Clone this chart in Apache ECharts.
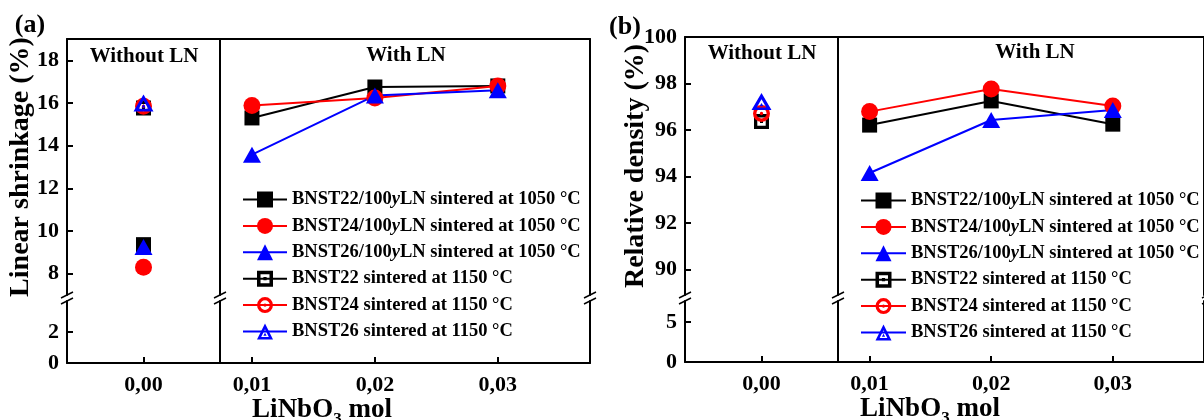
<!DOCTYPE html>
<html><head><meta charset="utf-8">
<script src="https://cdn.jsdelivr.net/npm/echarts@6.0.0/dist/echarts.min.js"></script>
<style>html,body{margin:0;padding:0;background:#fff}#c{width:1204px;height:420px}</style>
</head><body><div id="c"></div>
<script>
// ---------------- DATA ----------------
const xLeftCats = ['0,00'];
const xRightVals = [0.01, 0.02, 0.03];
const seriesNames = [
  'BNST22/100yLN sintered at 1050 °C',
  'BNST24/100yLN sintered at 1050 °C',
  'BNST26/100yLN sintered at 1050 °C',
  'BNST22 sintered at 1150 °C',
  'BNST24 sintered at 1150 °C',
  'BNST26 sintered at 1150 °C'
];
// (a) Linear shrinkage (%)
const shrinkLN22 = [15.3, 16.75, 16.8];
const shrinkLN24 = [15.88, 16.23, 16.8];
const shrinkLN26 = [13.58, 16.35, 16.6];
const shrinkNoLN1050 = [9.36, 8.3, 9.25];   // BNST22, BNST24, BNST26 at 0,00
const shrinkNoLN1150 = [15.76, 15.85, 16.0];
const shrinkTicksUpper = [8, 10, 12, 14, 16, 18];
const shrinkTicksLower = [0, 2];
// (b) Relative density (%)
const densLN22 = [96.21, 97.25, 96.25];
const densLN24 = [96.79, 97.76, 97.03];
const densLN26 = [94.15, 96.43, 96.86];
const densNoLN1150 = [96.36, 96.71, 97.22];
const densTicksUpper = [90, 92, 94, 96, 98, 100];
const densTicksLower = [0, 5];

// ---------------- STYLE / LAYOUT ----------------
const FONT = "'Liberation Serif','Times New Roman',serif";
function T(size, extra) { return Object.assign({fontFamily: FONT, fontWeight: 'bold', fontSize: size, color: '#000'}, extra || {}); }
const LINE = {show: true, onZero: false, lineStyle: {color: '#000', width: 2}};
const COLORS = ['#000000', '#ff0000', '#0000ff'];
const FILLED = ['rect', 'circle', 'triangle'];
const FILLED_SIZE = [15, 17, [18, 16]];
const HOLLOW = [
  'path://M0,0H10V10H0Z M2.2,2.2V7.8H7.8V2.2Z M4,4H6V6H4Z',
  'path://M5,0A5,5,0,1,1,5,10A5,5,0,1,1,5,0Z M5,2A3,3,0,1,0,5,8A3,3,0,1,0,5,2Z M5,4A1,1,0,1,1,5,6A1,1,0,1,1,5,4Z',
  'path://M5,0L10,9L0,9Z M5,3.2L2.6,7.6L7.4,7.6Z M5,5.2L6,6.9L4,6.9Z'
];
const HOLLOW_SIZE = [15, 17, [20, 17]];
const X_RANGE = [0.0074, 0.0375];

const grid = [], xAxis = [], yAxis = [], series = [], graphic = [];

function addPanel(L, yU, yLo, yName, nameGap, ticksU, ticksL, ln, noLN1050, noLN1150) {
  const g0 = grid.length, xi = xAxis.length, yi = yAxis.length;
  grid.push(
    {left: L.x0, top: L.yt, width: L.xd - L.x0, height: L.yb1 - L.yt},
    {left: L.x0, top: L.yt2, width: L.xd - L.x0, height: L.yb - L.yt2},
    {left: L.xd, top: L.yt, width: L.x1 - L.xd, height: L.yb1 - L.yt},
    {left: L.xd, top: L.yt2, width: L.x1 - L.xd, height: L.yb - L.yt2});
  const tickX = (extra) => Object.assign({show: true, inside: true, length: 6, lineStyle: {color: '#000', width: 2}}, extra);
  xAxis.push(
    {gridIndex: g0, type: 'category', data: xLeftCats, position: 'top', axisLine: LINE, axisTick: {show: false}, axisLabel: {show: false}},
    {gridIndex: g0 + 1, type: 'category', data: xLeftCats, position: 'bottom', axisLine: LINE,
      axisTick: tickX({alignWithLabel: true}), axisLabel: Object.assign({margin: 11}, T(22))},
    {gridIndex: g0 + 2, type: 'value', min: X_RANGE[0], max: X_RANGE[1], position: 'top', axisLine: LINE,
      axisTick: {show: false}, axisLabel: {show: false}, splitLine: {show: false}},
    {gridIndex: g0 + 3, type: 'value', min: X_RANGE[0], max: X_RANGE[1], position: 'bottom', axisLine: LINE,
      axisTick: tickX({customValues: xRightVals}),
      axisLabel: Object.assign({customValues: xRightVals, margin: 11, formatter: v => v.toFixed(2).replace('.', ',')}, T(22)),
      splitLine: {show: false}});
  const tickY = (vals) => ({show: true, inside: true, length: 6, customValues: vals, lineStyle: {color: '#000', width: 2}});
  const labY = (vals) => Object.assign({customValues: vals, margin: 8}, T(22));
  const plain = (gi, r, pos) => ({gridIndex: gi, type: 'value', min: r[0], max: r[1], position: pos, axisLine: LINE,
      axisTick: {show: false}, axisLabel: {show: false}, splitLine: {show: false}});
  yAxis.push(
    {gridIndex: g0, type: 'value', min: yU[0], max: yU[1], position: 'left', axisLine: LINE,
      axisTick: tickY(ticksU), axisLabel: labY(ticksU), splitLine: {show: false},
      name: yName, nameLocation: 'middle', nameGap: nameGap, nameMoveOverlap: false, nameTextStyle: T(28)},
    {gridIndex: g0 + 1, type: 'value', min: yLo[0], max: yLo[1], position: 'left', axisLine: LINE,
      axisTick: tickY(ticksL), axisLabel: labY(ticksL), splitLine: {show: false}},
    plain(g0 + 2, yU, 'left'), plain(g0 + 2, yU, 'right'),
    plain(g0 + 3, yLo, 'left'), plain(g0 + 3, yLo, 'right'));
  for (let i = 0; i < 3; i++) {
    const base = {name: seriesNames[i], type: 'line', symbol: FILLED[i], symbolSize: FILLED_SIZE[i],
      itemStyle: {color: COLORS[i]}, lineStyle: {color: COLORS[i], width: 2}, animation: false};
    if (noLN1050) series.push(Object.assign({xAxisIndex: xi, yAxisIndex: yi, data: [noLN1050[i]]}, base));
    series.push(Object.assign({xAxisIndex: xi + 2, yAxisIndex: yi + 2,
      data: xRightVals.map((x, j) => [x, ln[i][j]])}, base));
  }
  for (let i = 0; i < 3; i++) {
    series.push({name: seriesNames[3 + i], type: 'line', xAxisIndex: xi, yAxisIndex: yi, data: [noLN1150[i]],
      symbol: HOLLOW[i], symbolSize: HOLLOW_SIZE[i], itemStyle: {color: COLORS[i]},
      lineStyle: {color: COLORS[i], width: 1.5}, animation: false});
  }
  // axis break marks
  [L.x0, L.xd, L.x1].forEach(x => [L.yb1, L.yt2].forEach(y => graphic.push({type: 'line', z: 100,
    shape: {x1: x - 6, y1: y + 3, x2: x + 6, y2: y - 3}, style: {stroke: '#000', lineWidth: 1.5}})));
}

const LA = {x0: 67, xd: 220, x1: 590, yt: 39, yb1: 295, yt2: 301, yb: 363};
const LB = {x0: 685, xd: 838, x1: 1208, yt: 37, yb1: 295, yt2: 301, yb: 362};
addPanel(LA, [7, 19], [0, 4], 'Linear shrinkage (%)', 32, shrinkTicksUpper, shrinkTicksLower,
  [shrinkLN22, shrinkLN24, shrinkLN26], shrinkNoLN1050, shrinkNoLN1150);
addPanel(LB, [88.9, 100], [0, 7.6], 'Relative density (%)', 35, densTicksUpper, densTicksLower,
  [densLN22, densLN24, densLN26], null, densNoLN1150);

function gtext(x, y, text, size) {
  return {type: 'text', x: x, y: y, z: 100, style: {text: text, fill: '#000', fontFamily: FONT, fontWeight: 'bold',
    fontSize: size, align: 'center', verticalAlign: 'middle'}};
}
graphic.push(gtext(30, 25, '(a)', 26), gtext(625, 27, '(b)', 26),
  gtext(144, 57, 'Without LN', 21), gtext(406, 56, 'With LN', 21),
  gtext(762, 54, 'Without LN', 21), gtext(1035, 53, 'With LN', 21));
function xTitle(x, y) {
  return {type: 'text', x: x, y: y, z: 100, style: {text: '{a|LiNbO}{s|3}{a| mol}', fill: '#000',
    align: 'center', verticalAlign: 'middle',
    rich: {a: {fontFamily: FONT, fontWeight: 'bold', fontSize: 27, fill: '#000'},
           s: {fontFamily: FONT, fontWeight: 'bold', fontSize: 17, fill: '#000', padding: [20, 0, 0, 0]}}}};
}
graphic.push(xTitle(322, 410), xTitle(930, 409));

const RICH = {b: T(18.5), i: T(18.5, {fontStyle: 'italic'})};
function legendFmt(name) {
  const k = name.indexOf('100y');
  if (k < 0) return '{b|' + name + '}';
  return '{b|' + name.slice(0, k + 3) + '}{i|y}{b|' + name.slice(k + 4) + '}';
}
const legendBase = {orient: 'vertical', itemHeight: 20, itemGap: 7.4, data: seriesNames, formatter: legendFmt,
  selectedMode: false, textStyle: Object.assign(T(18.5), {rich: RICH})};

const chart = echarts.init(document.getElementById('c'), null, {renderer: 'canvas'});
chart.setOption({
  backgroundColor: '#fff',
  animation: false,
  grid: grid, xAxis: xAxis, yAxis: yAxis, series: series,
  legend: [Object.assign({left: 237, top: 185, itemWidth: 44}, legendBase),
           Object.assign({left: 855, top: 186, itemWidth: 45}, legendBase)],
  graphic: graphic
});
</script></body></html>
